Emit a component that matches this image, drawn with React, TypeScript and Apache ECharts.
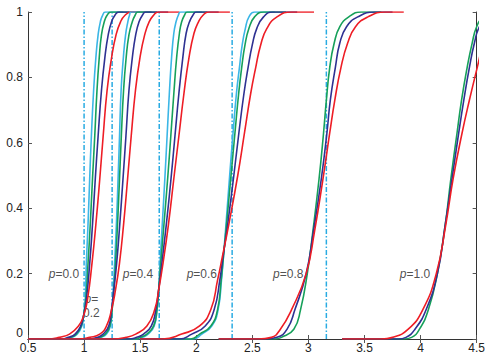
import React, { useEffect, useRef } from 'react';
import * as echarts from 'echarts';

// vertical dash-dot reference lines
const vLines = [1.0, 1.25, 1.67, 2.32, 3.16];

// group p=0.0
const yA = [0, 0, 0.005, 0.015, 0.04, 0.07, 0.12, 0.23, 0.35, 0.49, 0.62, 0.76, 0.86, 0.93, 0.97, 0.99, 1, 1];
const cyanA = [0.5, 0.83, 0.89, 0.94, 0.98, 0.995, 1.01, 1.02, 1.035, 1.05, 1.065, 1.085, 1.105, 1.125, 1.145, 1.165, 1.19, 1.35];
const greenA = [0.5, 0.82, 0.88, 0.93, 0.975, 0.995, 1.015, 1.035, 1.055, 1.075, 1.095, 1.115, 1.135, 1.155, 1.18, 1.205, 1.24, 1.4];
const navyA = [0.5, 0.8, 0.86, 0.92, 0.97, 0.995, 1.02, 1.05, 1.075, 1.1, 1.125, 1.155, 1.185, 1.215, 1.245, 1.275, 1.31, 1.5];
const redA = [0.5, 0.7, 0.78, 0.87, 0.95, 0.995, 1.03, 1.07, 1.105, 1.14, 1.17, 1.205, 1.245, 1.285, 1.325, 1.365, 1.42, 1.6];

// group p=0.2
const yB = [0, 0, 0.005, 0.015, 0.04, 0.09, 0.15, 0.23, 0.35, 0.49, 0.62, 0.76, 0.86, 0.93, 0.97, 0.99, 1, 1];
const cyanB = [0.5, 1.1, 1.15, 1.2, 1.235, 1.25, 1.26, 1.272, 1.288, 1.303, 1.316, 1.33, 1.35, 1.37, 1.39, 1.405, 1.42, 1.6];
const greenB = [0.5, 1.08, 1.14, 1.19, 1.23, 1.25, 1.265, 1.28, 1.298, 1.316, 1.332, 1.352, 1.375, 1.4, 1.43, 1.455, 1.48, 1.65];
const navyB = [0.5, 1.05, 1.12, 1.17, 1.22, 1.245, 1.265, 1.29, 1.318, 1.347, 1.373, 1.4, 1.43, 1.46, 1.49, 1.52, 1.55, 1.75];
const redB = [0.5, 0.95, 1.05, 1.14, 1.2, 1.245, 1.28, 1.315, 1.352, 1.388, 1.42, 1.458, 1.498, 1.54, 1.58, 1.62, 1.66, 1.85];

// group p=0.4
const yC = [0, 0, 0.005, 0.015, 0.04, 0.09, 0.15, 0.23, 0.35, 0.49, 0.62, 0.75, 0.86, 0.935, 0.97, 0.99, 1, 1];
const cyanC = [1.0, 1.47, 1.52, 1.57, 1.625, 1.65, 1.665, 1.677, 1.697, 1.72, 1.74, 1.76, 1.78, 1.8, 1.82, 1.84, 1.86, 2.05];
const greenC = [1.0, 1.45, 1.5, 1.56, 1.62, 1.65, 1.665, 1.683, 1.712, 1.745, 1.773, 1.8, 1.825, 1.85, 1.87, 1.895, 1.92, 2.1];
const navyC = [1.0, 1.4, 1.47, 1.53, 1.6, 1.64, 1.665, 1.693, 1.733, 1.775, 1.81, 1.845, 1.88, 1.91, 1.94, 1.97, 2.0, 2.2];
const redC = [1.0, 1.25, 1.375, 1.46, 1.56, 1.63, 1.665, 1.703, 1.752, 1.8, 1.845, 1.89, 1.935, 1.98, 2.02, 2.06, 2.11, 2.3];

// group p=0.6
const yD = [0, 0, 0.015, 0.04, 0.09, 0.18, 0.25, 0.35, 0.5, 0.63, 0.75, 0.83, 0.9, 0.95, 0.985, 1, 1];
const cyanD = [1.5, 1.97, 2.05, 2.14, 2.195, 2.225, 2.242, 2.265, 2.298, 2.328, 2.358, 2.385, 2.41, 2.438, 2.47, 2.52, 2.7];
const greenD = [1.5, 1.95, 2.03, 2.13, 2.19, 2.222, 2.242, 2.27, 2.31, 2.345, 2.378, 2.405, 2.435, 2.47, 2.52, 2.6, 2.8];
const navyD = [1.5, 1.85, 1.96, 2.08, 2.16, 2.21, 2.238, 2.28, 2.335, 2.38, 2.425, 2.462, 2.5, 2.54, 2.6, 2.68, 2.9];
const redD = [1.5, 1.7, 1.87, 2.03, 2.13, 2.19, 2.232, 2.29, 2.37, 2.43, 2.485, 2.53, 2.575, 2.63, 2.72, 2.85, 3.05];

// group p=0.8
const yE = [0, 0, 0.005, 0.03, 0.09, 0.2, 0.33, 0.49, 0.63, 0.73, 0.83, 0.905, 0.955, 0.985, 1, 1];
const greenE = [2.2, 2.7, 2.76, 2.87, 2.93, 2.99, 3.04, 3.095, 3.135, 3.16, 3.19, 3.23, 3.28, 3.36, 3.47, 3.65];
const navyE = [2.2, 2.62, 2.72, 2.81, 2.88, 2.98, 3.045, 3.115, 3.165, 3.195, 3.24, 3.28, 3.34, 3.44, 3.59, 3.75];
const redE = [2.2, 2.55, 2.67, 2.75, 2.85, 2.98, 3.055, 3.13, 3.19, 3.235, 3.29, 3.35, 3.42, 3.53, 3.68, 3.85];

// group p=1.0
const yF = [0, 0, 0.005, 0.03, 0.09, 0.2, 0.35, 0.49, 0.63, 0.73, 0.83, 0.905, 0.955, 0.985, 1];
const greenF = [3.3, 3.85, 3.92, 3.99, 4.07, 4.15, 4.22, 4.27, 4.325, 4.365, 4.415, 4.46, 4.5, 4.56, 4.68];
const navyF = [3.3, 3.8, 3.87, 3.95, 4.05, 4.15, 4.22, 4.28, 4.34, 4.385, 4.435, 4.48, 4.525, 4.6, 4.75];
const redF = [3.3, 3.65, 3.75, 3.89, 4.02, 4.14, 4.225, 4.29, 4.37, 4.435, 4.505, 4.56, 4.62, 4.72, 4.87];

// labels
const labelX = [0.82, 1.065, 1.48, 2.05, 2.82, 3.95];
const labelY = [0.2, 0.1, 0.2, 0.2, 0.2, 0.2];
const labelText = ['0.0', '0.2', '0.4', '0.6', '0.8', '1.0'];

const CYAN = '#3bb6e6';
const GREEN = '#16a05a';
const NAVY = '#2e3192';
const RED = '#ee1d25';
const FONT = '"Liberation Sans", Arial, Helvetica, sans-serif';

const curves: [number[], number[], string][] = [
  [yA, cyanA, CYAN], [yA, greenA, GREEN], [yA, navyA, NAVY], [yA, redA, RED],
  [yB, cyanB, CYAN], [yB, greenB, GREEN], [yB, navyB, NAVY], [yB, redB, RED],
  [yC, cyanC, CYAN], [yC, greenC, GREEN], [yC, navyC, NAVY], [yC, redC, RED],
  [yD, cyanD, CYAN], [yD, greenD, GREEN], [yD, navyD, NAVY], [yD, redD, RED],
  [yE, greenE, GREEN], [yE, navyE, NAVY], [yE, redE, RED],
  [yF, greenF, GREEN], [yF, navyF, NAVY], [yF, redF, RED],
];

export default function App() {
  const ref = useRef<HTMLDivElement>(null);
  useEffect(() => {
    if (!ref.current) return;
    const chart = echarts.init(ref.current, undefined, { renderer: 'svg' });
    const series: any[] = [];
    vLines.forEach((v) => {
      series.push({
        type: 'line',
        data: [[v, 0], [v, 1]],
        showSymbol: false,
        symbol: 'none',
        silent: true,
        lineStyle: { color: '#29abe2', width: 1.5, type: [5, 2, 1.5, 2] },
      });
    });
    curves.forEach(([ys, xs, color]) => {
      series.push({
        type: 'line',
        data: xs.map((x, i) => [x, ys[i]]),
        showSymbol: false,
        symbol: 'none',
        smooth: 0.5,
        clip: true,
        lineStyle: { color, width: 1.6 },
      });
    });
    series.push({
      type: 'scatter',
      symbolSize: 1,
      itemStyle: { color: 'rgba(0,0,0,0)' },
      data: labelX.map((x, i) => [x, labelY[i], labelText[i]]),
      label: {
        show: true,
        position: 'inside',
        color: '#222',
        fontFamily: FONT,
        fontSize: 12,
        formatter: (p: any) =>
          p.data[2] === '0.2' ? '{i|p}{n|=}\n{n|0.2}' : '{i|p}{n|=' + p.data[2] + '}',
        rich: {
          i: { fontStyle: 'italic', fontSize: 12, fontFamily: FONT, color: '#222', lineHeight: 14 },
          n: { fontSize: 12, fontFamily: FONT, color: '#222', lineHeight: 14 },
        },
      },
    });
    const axisCommon = {
      type: 'value',
      axisLine: { show: true, lineStyle: { color: '#333', width: 1 } },
      axisTick: { show: true, inside: true, length: 4, lineStyle: { color: '#555' } },
      splitLine: { show: false },
    };
    chart.setOption({
      animation: false,
      grid: { left: 28, right: 9, top: 12, bottom: 14, containLabel: false },
      xAxis: [
        {
          ...axisCommon,
          position: 'bottom',
          min: 0.5,
          max: 4.5,
          interval: 0.5,
          axisLabel: { margin: 3, fontSize: 12, color: '#222', fontFamily: FONT },
        },
        {
          ...axisCommon,
          position: 'top',
          min: 0.5,
          max: 4.5,
          interval: 0.5,
          axisLabel: { show: false },
        },
      ],
      yAxis: [
        {
          ...axisCommon,
          position: 'left',
          min: 0,
          max: 1,
          interval: 0.2,
          axisLabel: {
            margin: 5,
            fontSize: 12,
            color: '#222',
            fontFamily: FONT,
            verticalAlignMinLabel: 'bottom',
          },
        },
        {
          ...axisCommon,
          position: 'right',
          min: 0,
          max: 1,
          interval: 0.2,
          axisLabel: { show: false },
        },
      ],
      series,
    });
    return () => chart.dispose();
  }, []);
  return (
    <div
      ref={ref}
      style={{ position: 'fixed', left: 0, top: 0, width: 488, height: 354, background: '#fff' }}
    />
  );
}
